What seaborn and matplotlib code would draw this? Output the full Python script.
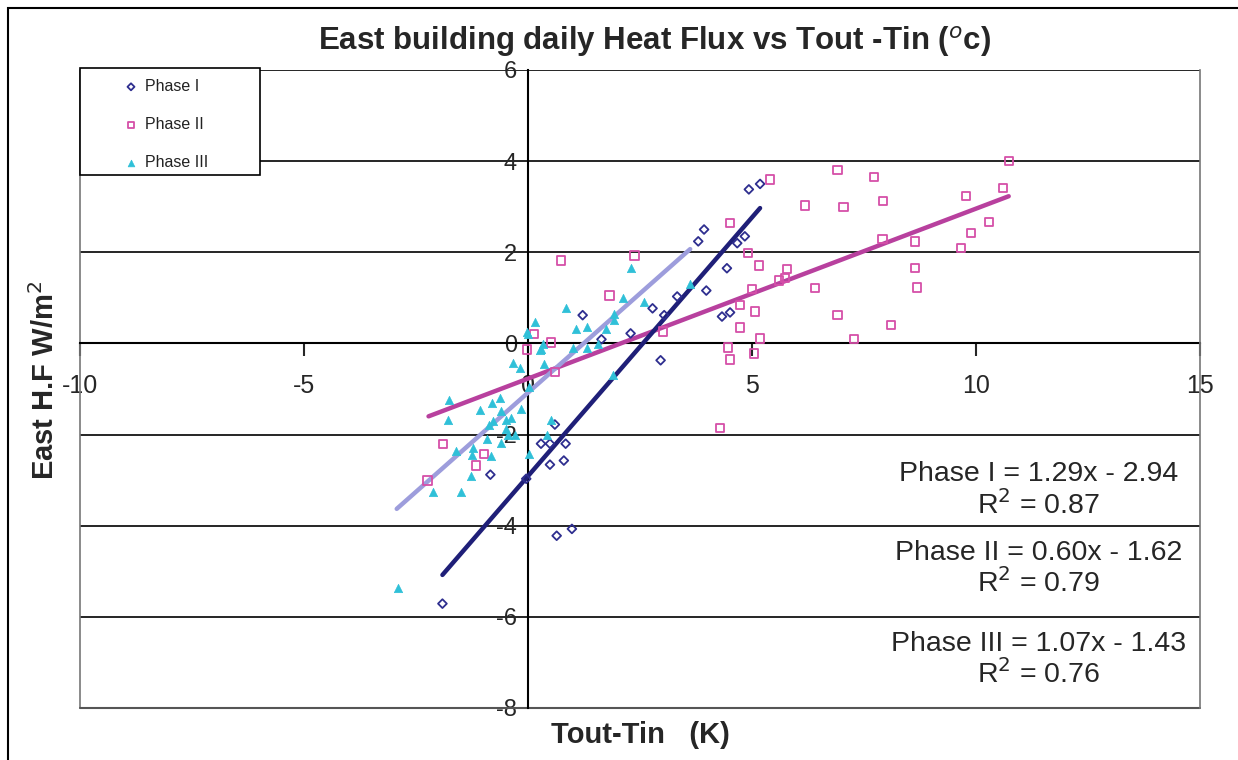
import numpy as np
import seaborn as sns
import matplotlib.pyplot as plt
from matplotlib.patches import Rectangle

# Phase I (diamonds)
p1_x = [4.93, 5.18, 3.93, 3.80, 4.67, 4.84, 4.44, 3.98, 3.33, 2.78, 3.04, 4.33, 4.51,
        2.29, 2.96, 1.22, 1.64, 0.29, 0.49, 0.84, 0.60, 0.49, 0.80, -0.84, -0.04,
        0.98, 0.64, -1.91]
p1_y = [3.38, 3.50, 2.50, 2.24, 2.20, 2.35, 1.65, 1.16, 1.03, 0.77, 0.62, 0.59, 0.68,
        0.22, -0.37, 0.62, 0.09, -2.20, -2.20, -2.20, -1.78, -2.66, -2.57, -2.88, -2.97,
        -4.07, -4.22, -5.71]

# Phase II (squares)
p2_x = [10.73, 10.60, 9.78, 10.29, 9.89, 9.67, 8.64, 8.64, 8.69, 8.11, 7.27, 6.91,
        7.91, 7.93, 7.73, 7.04, 6.18, 6.91, 6.40, 5.78, 5.73, 5.60, 5.16, 4.91, 4.51,
        5.40, 5.00, 4.73, 5.07, 4.73, 5.18, 4.47, 4.51, 5.04, 0.73, 2.38, 1.82, 0.13,
        0.51, -0.02, 3.02, 0.60, -1.89, -0.98, -1.16, -2.24, 4.29]
p2_y = [4.00, 3.41, 3.23, 2.66, 2.42, 2.09, 2.24, 1.65, 1.23, 0.40, 0.09, 0.62,
        2.29, 3.12, 3.65, 2.99, 3.03, 3.80, 1.21, 1.63, 1.43, 1.38, 1.71, 1.98, 2.64,
        3.60, 1.19, 0.84, 0.70, 0.35, 0.11, -0.09, -0.35, -0.22, 1.82, 1.93, 1.05, 0.20,
        0.02, -0.13, 0.26, -0.62, -2.20, -2.42, -2.68, -3.01, -1.85]

# Phase III (triangles)
p3_x = [0.00, 0.29, -0.33, -0.18, 0.36, 0.02, -1.76, -1.78, -1.07, -0.80, -0.62, -0.16,
        -0.60, -0.49, -0.38, -0.78, -0.87, -0.49, -0.91, -0.44, -0.29, 0.51, 0.42, 0.02,
        -1.60, -1.22, -1.24, -0.82, -0.60, -1.27, -2.13, -1.49, -2.91, -0.02, 0.16, 0.33,
        0.27, 0.84, 1.07, 1.31, 1.00, 1.31, 1.91, 1.93, 1.73, 1.56, 2.11, 2.60, 2.29,
        3.62, 1.89]
p3_y = [0.20, -0.13, -0.44, -0.53, -0.46, -0.95, -1.25, -1.69, -1.47, -1.30, -1.19, -1.43,
        -1.49, -1.69, -1.63, -1.71, -1.78, -1.87, -2.09, -2.02, -2.02, -1.69, -2.00, -2.42,
        -2.35, -2.29, -2.44, -2.48, -2.18, -2.92, -3.27, -3.25, -5.36, 0.24, 0.46, -0.02,
        -0.15, 0.77, 0.31, 0.35, -0.11, -0.11, 0.64, 0.51, 0.31, -0.02, 0.99, 0.90, 1.65,
        1.30, -0.70]

# trend lines as drawn (end points)
fit1_x = [-1.91, 5.18]
fit1_y = [-5.08, 2.97]
fit2_x = [-2.22, 10.73]
fit2_y = [-1.60, 3.23]
fit3_x = [-2.93, 3.62]
fit3_y = [-3.63, 2.07]

equations = ["Phase I = 1.29x - 2.94\nR$^2$ = 0.87",
             "Phase II = 0.60x - 1.62\nR$^2$ = 0.79",
             "Phase III = 1.07x - 1.43\nR$^2$ = 0.76"]
eq_y = [-3.23, -4.95, -6.95]

sns.set_style("white")
plt.rcParams['font.family'] = ['Liberation Sans', 'DejaVu Sans']
plt.rcParams['axes.unicode_minus'] = False

fig = plt.figure(figsize=(12.38, 7.60), dpi=100)
ax = fig.add_axes([80 / 1238, 1 - 708 / 760, 1120 / 1238, 638 / 760])

c1, c2, c3 = '#2e2e8f', '#d54fa8', '#2fc0d8'

sns.lineplot(x=fit2_x, y=fit2_y, color='#b8409e', lw=3.2, ax=ax, zorder=3)
sns.lineplot(x=fit3_x, y=fit3_y, color='#9d9ddc', lw=3.2, ax=ax, zorder=3)
sns.lineplot(x=fit1_x, y=fit1_y, color='#1f1f78', lw=3.2, ax=ax, zorder=3)

sns.scatterplot(x=p1_x, y=p1_y, marker='D', s=20, facecolor='none', edgecolor=c1,
                linewidth=1.3, label='Phase I', ax=ax, zorder=4)
sns.scatterplot(x=p2_x, y=p2_y, marker='s', s=36, facecolor='none', edgecolor=c2,
                linewidth=1.3, label='Phase II', ax=ax, zorder=4)
sns.scatterplot(x=p3_x, y=p3_y, marker='^', s=36, color=c3, edgecolor=c3,
                linewidth=0.5, label='Phase III', ax=ax, zorder=4)

ax.set_xlim(-10, 15)
ax.set_ylim(-8, 6)
ax.set_xticks([-10, -5, 0, 5, 10, 15])
ax.set_yticks(np.arange(-8, 7, 2))
ax.grid(axis='y', color='black', lw=1.2)
ax.grid(axis='x', visible=False)
ax.yaxis.get_gridlines()[-1].set_visible(False)
ax.set_axisbelow(True)

ax.spines['left'].set_position(('data', 0))
ax.spines['bottom'].set_position(('data', 0))
ax.spines['top'].set_visible(False)
for s in ['left', 'bottom']:
    ax.spines[s].set_color('black')
    ax.spines[s].set_linewidth(1.5)
    ax.spines[s].set_zorder(2)
ax.spines['right'].set_color('#777777')
ax.spines['right'].set_linewidth(1.2)
ax.axvline(-10, color='#777777', lw=1.2, clip_on=False)
ax.axhline(-8, color='#555555', lw=1.5, clip_on=False)

ax.tick_params(axis='x', direction='out', length=9, width=1.5, pad=13,
               labelsize=18, bottom=True)
ax.tick_params(axis='y', direction='out', length=0, pad=8, labelsize=17, left=True)

for t, yy in zip(equations, eq_y):
    ax.text(11.4, yy, t, ha='center', va='center', multialignment='center',
            fontsize=20.5, linespacing=1.1, zorder=5,
            bbox=dict(facecolor='white', edgecolor='none', pad=1))

# legend box drawn as a patch, entries placed inside it
ax.add_patch(Rectangle((0, 1 - 107 / 638 + 0.003), 180 / 1120, 107 / 638,
                       transform=ax.transAxes, facecolor='white', edgecolor='black',
                       lw=1.2, zorder=6, clip_on=False))
leg = ax.legend(loc='upper left', bbox_to_anchor=(43 / 1120, (708 - 79) / 638),
                borderaxespad=0, borderpad=0, fontsize=11.5, labelspacing=1.45,
                frameon=False, handlelength=1.0, handletextpad=0.35, markerscale=0.8)
for txt in leg.get_texts():
    txt.set_color('#222222')
leg.set_zorder(7)

fig.text(655 / 1238, 1 - 50 / 760, "East building daily Heat Flux vs Tout -Tin ($^{o}$c)",
         ha='center', va='baseline', fontsize=22.5, fontweight='bold')
fig.text(640 / 1238, 1 - 735 / 760, "Tout-Tin   (K)", ha='center', va='center',
         fontsize=21, fontweight='bold')
fig.text(45 / 1238, 1 - 380 / 760, "East H.F W/m$^2$", ha='center', va='center',
         rotation=90, fontsize=21, fontweight='bold')

fig.patches.append(Rectangle((8 / 1238, -0.05), 1.0, 1.05 - 8 / 760,
                             transform=fig.transFigure, fill=False,
                             edgecolor='black', lw=1.5))

fig.savefig("out.png", dpi=100)
